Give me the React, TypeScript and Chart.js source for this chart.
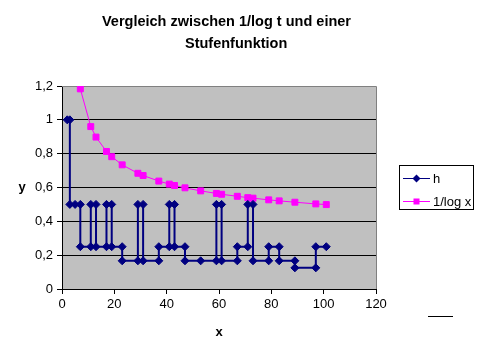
import React, { useEffect, useRef } from 'react';
import { Chart, registerables } from 'chart.js';

Chart.register(...registerables);

const titleLines = ['Vergleich zwischen 1/log t und einer', 'Stufenfunktion'];
const xAxisTitle = 'x';
const yAxisTitle = 'y';
const hLabel = 'h';
const logLabel = '1/log x';

// 1/log x series (x values are primes)
const logX = [2, 3, 5, 7, 11, 13, 17, 19, 23, 29, 31, 37, 41, 43, 47, 53, 59, 61, 67, 71, 73, 79, 83, 89, 97, 101];
const logY = [3.322, 2.096, 1.431, 1.183, 0.96, 0.898, 0.813, 0.782, 0.734, 0.684, 0.671, 0.638, 0.62, 0.612, 0.598, 0.58, 0.565, 0.56, 0.548, 0.54, 0.537, 0.527, 0.521, 0.513, 0.503, 0.499];

// step function h
const hX = [2, 3, 3, 5, 7, 7, 11, 11, 13, 13, 17, 17, 19, 19, 23, 23, 29, 29, 31, 31, 37, 37, 41, 41, 43, 43, 47, 47, 53, 59, 59, 61, 61, 67, 67, 71, 71, 73, 73, 79, 79, 83, 83, 89, 89, 97, 97, 101];
const hY = [1, 1, 0.5, 0.5, 0.5, 0.25, 0.25, 0.5, 0.5, 0.25, 0.25, 0.5, 0.5, 0.25, 0.25, 0.1667, 0.1667, 0.5, 0.5, 0.1667, 0.1667, 0.25, 0.25, 0.5, 0.5, 0.25, 0.25, 0.1667, 0.1667, 0.1667, 0.5, 0.5, 0.1667, 0.1667, 0.25, 0.25, 0.5, 0.5, 0.1667, 0.1667, 0.25, 0.25, 0.1667, 0.1667, 0.125, 0.125, 0.25, 0.25];

const xMin = 0;
const xMax = 120;
const xStep = 20;
const yMin = 0;
const yMax = 1.2;
const yStep = 0.2;

const NAVY = '#000080';
const MAGENTA = '#FF00FF';
const FONT = '"Liberation Sans", Arial, sans-serif';

const decor = {
  id: 'decor',
  beforeDraw(chart: any) {
    const { ctx, chartArea } = chart;
    const { left, top, right, bottom } = chartArea;
    ctx.save();
    ctx.fillStyle = '#ffffff';
    ctx.fillRect(0, 0, chart.width, chart.height);
    ctx.fillStyle = '#C0C0C0';
    ctx.fillRect(left, top, right - left, bottom - top);
    ctx.restore();
  },
  beforeDatasetsDraw(chart: any) {
    const { ctx, chartArea } = chart;
    const { left, top, right, bottom } = chartArea;
    ctx.save();
    ctx.strokeStyle = '#808080';
    ctx.lineWidth = 1;
    ctx.beginPath();
    ctx.moveTo(left, Math.round(top) + 0.5);
    ctx.lineTo(Math.round(right) + 0.5, Math.round(top) + 0.5);
    ctx.lineTo(Math.round(right) + 0.5, bottom);
    ctx.stroke();
    ctx.restore();
  },
  afterDraw(chart: any) {
    const { ctx, chartArea } = chart;
    const { left, top, right, bottom } = chartArea;
    ctx.save();
    // title
    ctx.fillStyle = '#000';
    ctx.font = `bold 14.5px ${FONT}`;
    ctx.textBaseline = 'alphabetic';
    ctx.textAlign = 'left';
    ctx.fillText(titleLines[0], 102, 26);
    ctx.fillText(titleLines[1], 185, 48);
    // axis titles
    ctx.font = `bold 13px ${FONT}`;
    ctx.textAlign = 'center';
    ctx.textBaseline = 'middle';
    ctx.fillText(yAxisTitle, 22, (top + bottom) / 2);
    ctx.fillText(xAxisTitle, (left + right) / 2, 332);
    // legend
    ctx.fillStyle = '#fff';
    ctx.fillRect(399, 165, 74, 44);
    ctx.strokeStyle = '#000';
    ctx.lineWidth = 1;
    ctx.strokeRect(399.5, 165.5, 74, 44);
    const rows = [
      { label: hLabel, color: NAVY, y: 178, style: 'diamond' },
      { label: logLabel, color: MAGENTA, y: 201, style: 'square' },
    ];
    ctx.font = `13px ${FONT}`;
    ctx.textAlign = 'left';
    ctx.textBaseline = 'middle';
    for (const r of rows) {
      ctx.strokeStyle = r.color;
      ctx.lineWidth = 1;
      ctx.beginPath();
      ctx.moveTo(403, r.y + 0.5);
      ctx.lineTo(430, r.y + 0.5);
      ctx.stroke();
      ctx.fillStyle = r.color;
      const cx = 416.5, cy = r.y + 0.5;
      if (r.style === 'diamond') {
        ctx.beginPath();
        ctx.moveTo(cx, cy - 4);
        ctx.lineTo(cx + 4, cy);
        ctx.lineTo(cx, cy + 4);
        ctx.lineTo(cx - 4, cy);
        ctx.closePath();
        ctx.fill();
      } else {
        ctx.fillRect(cx - 3, cy - 3, 6, 6);
      }
      ctx.fillStyle = '#000';
      ctx.fillText(r.label, 433, r.y + 1);
    }
    // short line bottom right
    ctx.strokeStyle = '#000';
    ctx.lineWidth = 1;
    ctx.beginPath();
    ctx.moveTo(428, 316.5);
    ctx.lineTo(453, 316.5);
    ctx.stroke();
    ctx.restore();
  },
};

export default function App() {
  const ref = useRef<HTMLCanvasElement | null>(null);
  useEffect(() => {
    if (!ref.current) return;
    const hData = hX.map((x, i) => ({ x, y: hY[i] }));
    const logData = logX.map((x, i) => ({ x, y: logY[i] }));
    const chart = new Chart(ref.current, {
      type: 'scatter',
      data: {
        datasets: [
          {
            label: hLabel,
            data: hData,
            showLine: true,
            borderColor: NAVY,
            backgroundColor: NAVY,
            borderWidth: 2,
            pointStyle: 'rectRot',
            pointRadius: 4,
            pointBorderWidth: 1,
            pointBackgroundColor: NAVY,
            pointBorderColor: NAVY,
          },
          {
            label: logLabel,
            data: logData,
            showLine: true,
            borderColor: MAGENTA,
            backgroundColor: MAGENTA,
            borderWidth: 1,
            pointStyle: 'rect',
            pointRadius: 4.2,
            pointBorderWidth: 1,
            pointBackgroundColor: MAGENTA,
            pointBorderColor: MAGENTA,
          },
        ],
      },
      options: {
        responsive: false,
        animation: false,
        devicePixelRatio: 1,
        layout: { padding: { left: 0, right: 106, top: 86, bottom: 0 } },
        plugins: {
          legend: { display: false },
          title: { display: false },
          tooltip: { enabled: false },
        },
        scales: {
          x: {
            type: 'linear',
            min: xMin,
            max: xMax,
            afterFit(scale: any) {
              scale.height = 63;
            },
            ticks: {
              stepSize: xStep,
              color: '#000',
              font: { family: FONT, size: 13 },
              padding: 3,
              maxRotation: 0,
            },
            grid: {
              drawOnChartArea: false,
              drawTicks: true,
              tickLength: 5,
              color: '#000',
              tickColor: '#000',
            },
            border: { display: true, color: '#000', width: 1 },
          },
          y: {
            type: 'linear',
            min: yMin,
            max: yMax,
            afterFit(scale: any) {
              scale.width = 62;
            },
            ticks: {
              stepSize: yStep,
              color: '#000',
              font: { family: FONT, size: 13 },
              padding: 4,
              callback: (v: any) => String(Math.round(Number(v) * 10) / 10).replace('.', ','),
            },
            grid: {
              drawTicks: true,
              tickLength: 5,
              color: (c: any) => (c.tick && Math.abs(c.tick.value - yMax) < 1e-6 ? '#808080' : '#000'),
              tickColor: '#000',
            },
            border: { display: true, color: '#000', width: 1 },
          },
        },
      },
      plugins: [decor],
    } as any);
    return () => chart.destroy();
  }, []);
  return (
    <div style={{ position: 'fixed', left: 0, top: 0, width: 482, height: 352, background: '#fff' }}>
      <canvas ref={ref} width={482} height={352} style={{ width: 482, height: 352, display: 'block' }} />
    </div>
  );
}
